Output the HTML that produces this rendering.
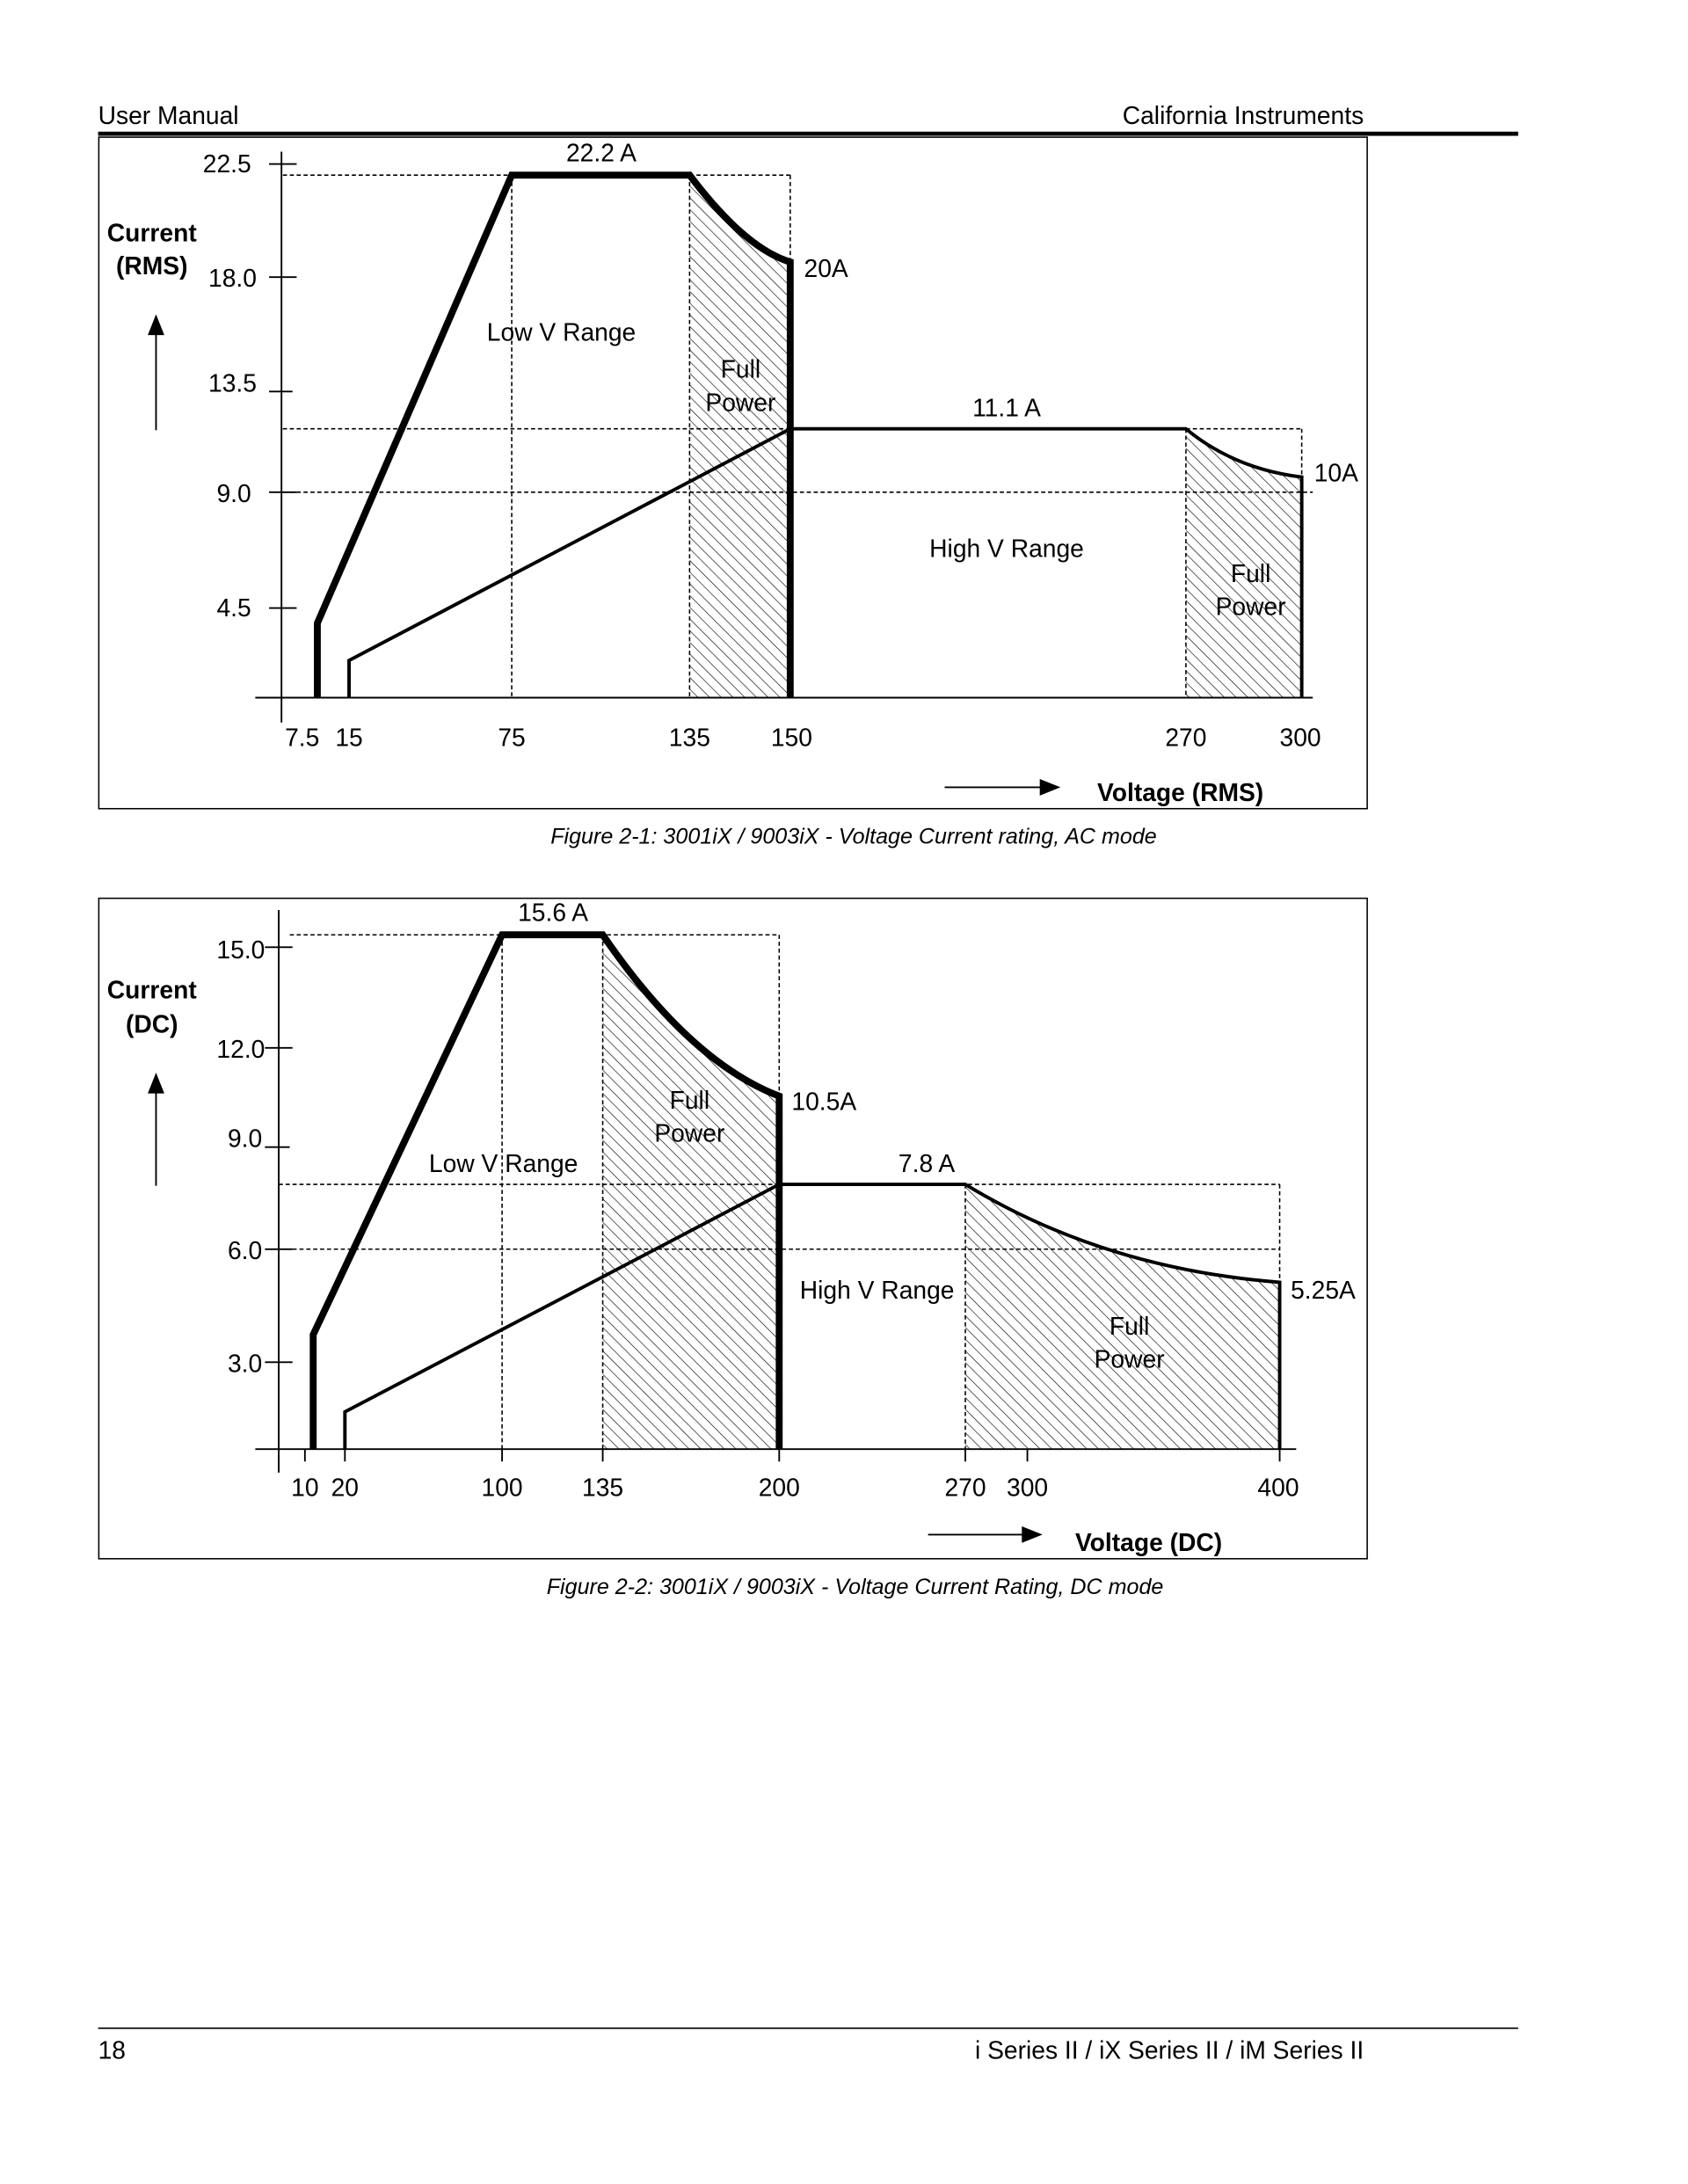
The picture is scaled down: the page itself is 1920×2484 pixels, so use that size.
<!DOCTYPE html>
<html><head><style>
html,body{margin:0;padding:0;background:#fff;}
svg{display:block;}
text{font-family:"Liberation Sans",sans-serif;fill:#000;}
</style></head><body>
<svg width="1920" height="2484" viewBox="0 0 1224 1584" xmlns="http://www.w3.org/2000/svg">
<defs>
<pattern id="h" width="6" height="6" patternUnits="userSpaceOnUse" patternTransform="rotate(-45)">
<line x1="0" y1="0" x2="0" y2="6" stroke="#000" stroke-width="0.8"/>
</pattern>
</defs>
<!-- header -->
<text x="71" y="90" font-size="18">User Manual</text>
<text x="989" y="90" font-size="18" text-anchor="end">California Instruments</text>
<line x1="71" y1="97" x2="1101" y2="97" stroke="#000" stroke-width="3"/>

<!-- Chart 1 -->
<rect x="71.5" y="99.5" width="920" height="487" fill="none" stroke="#000" stroke-width="1"/>
<g stroke="#000" stroke-width="1" stroke-dasharray="3,2" fill="none">
<line x1="205" y1="127" x2="573" y2="127"/>
<line x1="573" y1="127" x2="573" y2="506"/>
<line x1="205" y1="311" x2="944" y2="311"/>
<line x1="944" y1="311" x2="944" y2="506"/>
<line x1="205" y1="357" x2="952" y2="357"/>
<line x1="371" y1="127" x2="371" y2="506"/>
<line x1="500" y1="127" x2="500" y2="506"/>
<line x1="860" y1="311" x2="860" y2="506"/>
</g>
<path d="M500 127 Q540 180 573 190 L573 506 L500 506 Z" fill="url(#h)"/>
<path d="M860 311 Q895 340 944 346 L944 506 L860 506 Z" fill="url(#h)"/>
<g stroke="#000" stroke-width="1.2">
<line x1="204" y1="110" x2="204" y2="524"/>
<line x1="185" y1="506" x2="952" y2="506"/>
<line x1="195" y1="119" x2="215" y2="119"/>
<line x1="195" y1="201" x2="215" y2="201"/>
<line x1="195" y1="284" x2="212" y2="284"/>
<line x1="195" y1="357" x2="215" y2="357"/>
<line x1="195" y1="441" x2="215" y2="441"/>
<line x1="113" y1="312" x2="113" y2="240"/>
<line x1="685" y1="571" x2="758" y2="571"/>
</g>
<polygon points="113,228 107,243 119,243"/>
<polygon points="769,571 754,565 754,577"/>
<path d="M230 506 L230 452 L371 127 L500 127 Q540 180 573 190 L573 506" fill="none" stroke="#000" stroke-width="5"/>
<path d="M253 506 L253 479 L573 311 L860 311 Q895 340 944 346 L944 506" fill="none" stroke="#000" stroke-width="2.5"/>
<g font-size="18">
<text x="182" y="125" text-anchor="end">22.5</text>
<text x="186" y="208" text-anchor="end">18.0</text>
<text x="186" y="284" text-anchor="end">13.5</text>
<text x="182" y="364" text-anchor="end">9.0</text>
<text x="182" y="447" text-anchor="end">4.5</text>
<g text-anchor="middle">
<text x="219" y="541">7.5</text><text x="253" y="541">15</text><text x="371" y="541">75</text>
<text x="500" y="541">135</text><text x="574" y="541">150</text><text x="860" y="541">270</text><text x="943" y="541">300</text>
<text x="436" y="117">22.2 A</text>
<text x="407" y="247">Low V Range</text>
<text x="537" y="274">Full</text><text x="537" y="298">Power</text>
<text x="730" y="302">11.1 A</text>
<text x="730" y="404">High V Range</text>
<text x="907" y="422">Full</text><text x="907" y="446">Power</text>
</g>
<text x="583" y="201">20A</text>
<text x="953" y="349">10A</text>
<g font-weight="bold" text-anchor="middle">
<text x="110" y="175">Current</text><text x="110" y="199">(RMS)</text>
<text x="856" y="581">Voltage (RMS)</text>
</g>
</g>
<text x="619" y="612" font-size="16" font-style="italic" text-anchor="middle">Figure 2-1: 3001iX / 9003iX - Voltage Current rating, AC mode</text>

<!-- Chart 2 -->
<rect x="71.5" y="651.5" width="920" height="479" fill="none" stroke="#000" stroke-width="1"/>
<g stroke="#000" stroke-width="1" stroke-dasharray="3,2" fill="none">
<line x1="210" y1="678" x2="565" y2="678"/>
<line x1="565" y1="678" x2="565" y2="1051"/>
<line x1="202" y1="859" x2="928" y2="859"/>
<line x1="928" y1="859" x2="928" y2="1051"/>
<line x1="202" y1="906" x2="928" y2="906"/>
<line x1="364" y1="678" x2="364" y2="1051"/>
<line x1="437" y1="678" x2="437" y2="1051"/>
<line x1="700" y1="859" x2="700" y2="1051"/>
</g>
<path d="M437 678 Q500 770 565 795 L565 1051 L437 1051 Z" fill="url(#h)"/>
<path d="M700 859 Q800 920 928 930 L928 1051 L700 1051 Z" fill="url(#h)"/>
<g stroke="#000" stroke-width="1.2">
<line x1="202" y1="660" x2="202" y2="1068"/>
<line x1="185" y1="1051" x2="940" y2="1051"/>
<line x1="192" y1="687" x2="212" y2="687"/>
<line x1="192" y1="760" x2="212" y2="760"/>
<line x1="192" y1="832" x2="210" y2="832"/>
<line x1="192" y1="906" x2="212" y2="906"/>
<line x1="192" y1="988" x2="212" y2="988"/>
<line x1="221" y1="1051" x2="221" y2="1060"/><line x1="250" y1="1051" x2="250" y2="1060"/>
<line x1="364" y1="1051" x2="364" y2="1060"/><line x1="437" y1="1051" x2="437" y2="1060"/>
<line x1="565" y1="1051" x2="565" y2="1060"/><line x1="700" y1="1051" x2="700" y2="1060"/>
<line x1="745" y1="1051" x2="745" y2="1060"/><line x1="928" y1="1051" x2="928" y2="1060"/>
<line x1="113" y1="860" x2="113" y2="790"/>
<line x1="673" y1="1113" x2="745" y2="1113"/>
</g>
<polygon points="113,778 107,793 119,793"/>
<polygon points="756,1113 741,1107 741,1119"/>
<path d="M227 1051 L227 968 L364 678 L437 678 Q500 770 565 795 L565 1051" fill="none" stroke="#000" stroke-width="5"/>
<path d="M250 1051 L250 1024 L565 859 L700 859 Q800 920 928 930 L928 1051" fill="none" stroke="#000" stroke-width="2.5"/>
<g font-size="18">
<text x="192" y="695" text-anchor="end">15.0</text>
<text x="192" y="767" text-anchor="end">12.0</text>
<text x="190" y="832" text-anchor="end">9.0</text>
<text x="190" y="913" text-anchor="end">6.0</text>
<text x="190" y="995" text-anchor="end">3.0</text>
<g text-anchor="middle">
<text x="221" y="1085">10</text><text x="250" y="1085">20</text><text x="364" y="1085">100</text>
<text x="437" y="1085">135</text><text x="565" y="1085">200</text><text x="700" y="1085">270</text>
<text x="745" y="1085">300</text><text x="927" y="1085">400</text>
<text x="401" y="668">15.6 A</text>
<text x="500" y="804">Full</text><text x="500" y="828">Power</text>
<text x="365" y="850">Low V Range</text>
<text x="672" y="850">7.8 A</text>
<text x="636" y="942">High V Range</text>
<text x="819" y="968">Full</text><text x="819" y="992">Power</text>
</g>
<text x="574" y="805">10.5A</text>
<text x="936" y="942">5.25A</text>
<g font-weight="bold" text-anchor="middle">
<text x="110" y="724">Current</text><text x="110" y="749">(DC)</text>
<text x="833" y="1125">Voltage (DC)</text>
</g>
</g>
<text x="620" y="1156" font-size="16" font-style="italic" text-anchor="middle">Figure 2-2: 3001iX / 9003iX - Voltage Current Rating, DC mode</text>

<!-- footer -->
<line x1="71" y1="1471" x2="1101" y2="1471" stroke="#000" stroke-width="1"/>
<text x="71" y="1493" font-size="18">18</text>
<text x="989" y="1493" font-size="18" text-anchor="end">i Series II / iX Series II / iM Series II</text>
</svg>
</body></html>
